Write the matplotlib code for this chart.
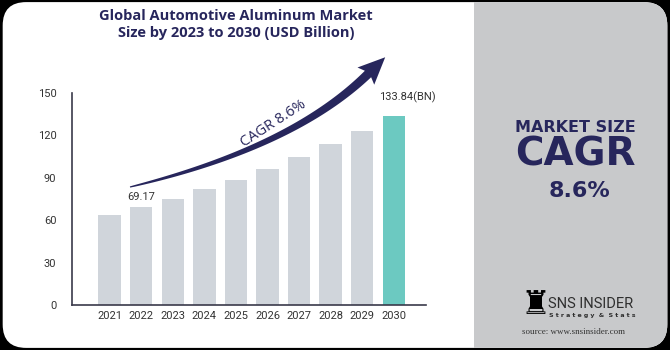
import numpy as np
import matplotlib
matplotlib.use("Agg")
import matplotlib.pyplot as plt
import matplotlib.patches as mpatches

years = ["2021", "2022", "2023", "2024", "2025", "2026", "2027", "2028", "2029", "2030"]
values = [63.6, 69.17, 75.2, 81.8, 88.6, 96.2, 104.5, 113.5, 123.0, 133.84]
yticks = [0, 30, 60, 90, 120, 150]

NAVY = "#27265c"
GRAY_BAR = "#d0d5db"
TEAL = "#6cc9c1"
PANEL = "#c8c9cb"

W, H = 670, 350
fig = plt.figure(figsize=(6.7, 3.5), dpi=100, facecolor="black")

def fx(x):
    return x / W

def fy(y):
    return 1 - y / H

# card background with rounded corners
card = mpatches.FancyBboxPatch((0.004, 0.006), 0.992, 0.988,
                               boxstyle="round,pad=0,rounding_size=0.035",
                               transform=fig.transFigure, facecolor="white",
                               edgecolor="none", mutation_aspect=W / H, zorder=-2)
fig.patches.append(card)
panel = mpatches.Rectangle((fx(474), 0), 1 - fx(474), 1, transform=fig.transFigure,
                           facecolor=PANEL, edgecolor="none", zorder=-1)
fig.patches.append(panel)
panel.set_clip_path(card)

# bar chart
ax = fig.add_axes([fx(71.7), fy(305), fx(426) - fx(71.7), fy(92.7) - fy(305)])
ax.set_facecolor("none")
x = np.arange(len(years))
colors = [GRAY_BAR] * (len(years) - 1) + [TEAL]
ax.bar(x, values, width=0.71, color=colors, zorder=2)
ax.set_xlim(-1.2, len(years) - 1 + 1.02)
ax.set_ylim(0, 150)
ax.set_yticks(yticks)
ax.set_xticks(x)
ax.set_xticklabels(years)
for s in ["top", "right"]:
    ax.spines[s].set_visible(False)
for s in ["left", "bottom"]:
    ax.spines[s].set_color("#3a3a4a")
    ax.spines[s].set_linewidth(1.2)
ax.tick_params(length=0, labelsize=8, labelcolor="#333333")
ax.tick_params(axis="y", pad=11)
ax.tick_params(axis="x", pad=4)
for lab in ax.get_xticklabels() + ax.get_yticklabels():
    lab.set_family("Roboto")

ax.annotate("69.17", (1, values[1]), xytext=(0, 4), textcoords="offset points",
            ha="center", va="bottom", fontsize=8, color="#333333", family="Roboto")
ax.annotate("133.84(BN)", (9, values[9]), xytext=(10, 9), textcoords="offset points",
            ha="center", va="bottom", fontsize=8, color="#333333", family="Roboto")

# title
fig.text(fx(236), fy(16), "Global Automotive Aluminum Market", ha="center", va="center",
         fontsize=10.5, fontweight="bold", color=NAVY, family="Open Sans")
fig.text(fx(236), fy(33), "Size by 2023 to 2030 (USD Billion)", ha="center", va="center",
         fontsize=10.5, fontweight="bold", color=NAVY, family="Open Sans")

# curved tapering arrow (pixel coords)
P0 = np.array([130.0, 187.0])
C = np.array([292.0, 148.0])
P2 = np.array([368.0, 74.0])
t = np.linspace(0, 1, 80)[:, None]
pts = (1 - t) ** 2 * P0 + 2 * (1 - t) * t * C + t ** 2 * P2
der = 2 * (1 - t) * (C - P0) + 2 * t * (P2 - C)
tang = der / np.linalg.norm(der, axis=1, keepdims=True)
norm = np.column_stack([-tang[:, 1], tang[:, 0]])
half = (0.6 + 3.9 * t[:, 0] ** 0.7)[:, None]
upper = pts + norm * half
lower = pts - norm * half
d = tang[-1]
n = norm[-1]
tip = P2 + d * 24
head = [P2 + n * 12 - d * 3, tip, P2 - n * 12 - d * 3]
outline = np.vstack([upper, head, lower[::-1]])
poly = mpatches.Polygon(np.column_stack([outline[:, 0] / W, 1 - outline[:, 1] / H]),
                        closed=True, transform=fig.transFigure, facecolor=NAVY,
                        edgecolor="none", zorder=3)
fig.patches.append(poly)
fig.text(fx(273), fy(124), "CAGR 8.6%", ha="center", va="center", rotation=33,
         fontsize=10.5, color=NAVY, family="Open Sans", rotation_mode="anchor")

# right panel
fig.text(fx(575), fy(128), "MARKET SIZE", ha="center", va="center", fontsize=11.5,
         fontweight="bold", color=NAVY, family="DejaVu Sans")
fig.text(fx(575), fy(155), "CAGR", ha="center", va="center", fontsize=28,
         fontweight="bold", color=NAVY, family="DejaVu Sans")
fig.text(fx(580), fy(191), "8.6%", ha="center", va="center", fontsize=16,
         fontweight="bold", color=NAVY, family="DejaVu Sans")

# logo
fig.text(fx(535), fy(304), "\u265c", ha="center", va="center", fontsize=24,
         color="black", family="DejaVu Sans")
fig.text(fx(548), fy(304), "SNS INSIDER", ha="left", va="center", fontsize=10.5,
         color="#2e2e2e", family="Roboto", fontstretch="condensed")
fig.text(fx(549), fy(316), "S t r a t e g y  &  S t a t s", ha="left", va="center",
         fontsize=4.5, color="#2e2e2e", fontweight="bold")
fig.text(fx(573), fy(332), "source: www.snsinsider.com", ha="center", va="center",
         fontsize=6.5, color="#333333", family="Liberation Serif")

fig.savefig("out.png", dpi=100, facecolor=fig.get_facecolor())
